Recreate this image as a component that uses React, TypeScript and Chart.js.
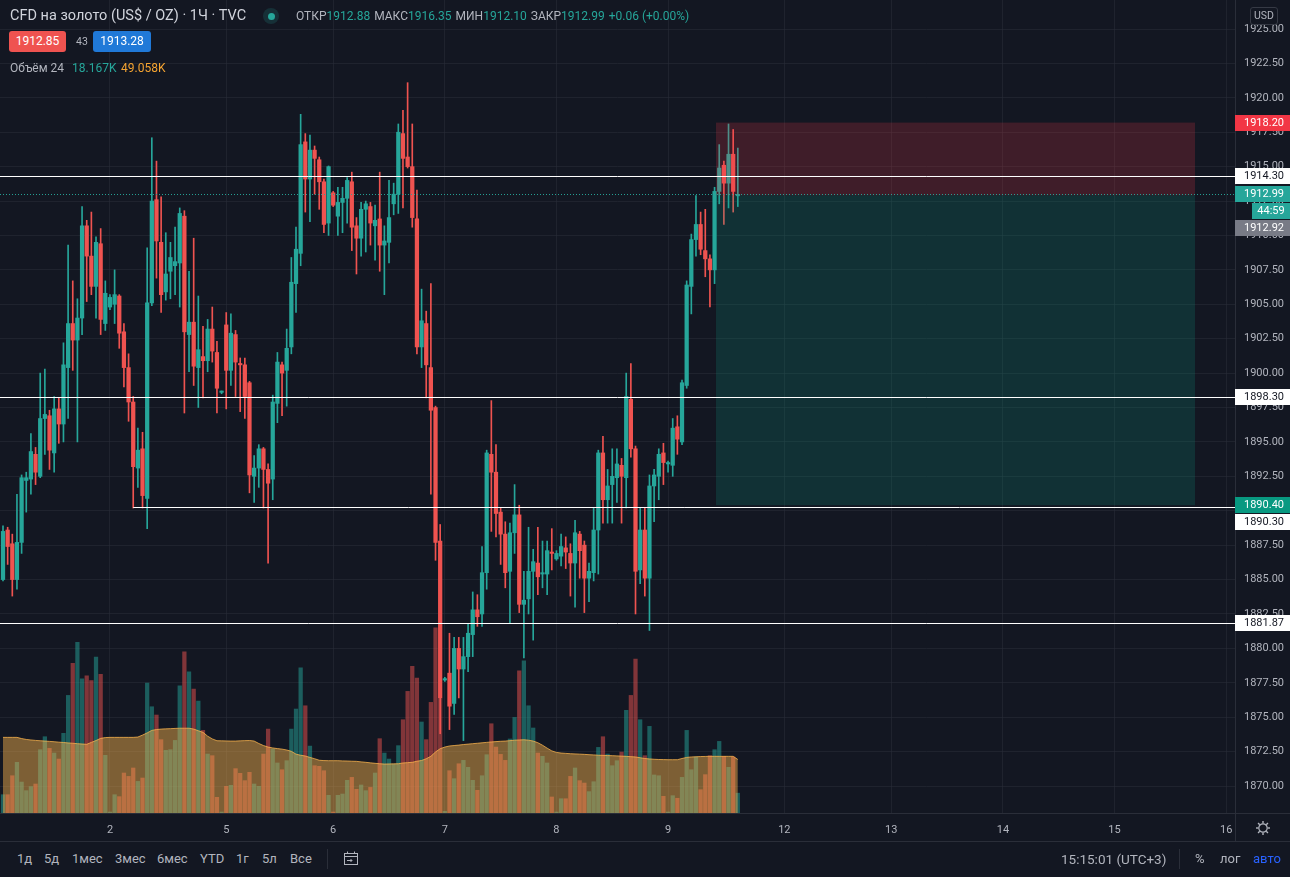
import React, { useEffect, useRef } from "react";
import { Chart, registerables } from "chart.js";

Chart.register(...registerables);

// ---------- data ----------
const opens = [
  1885.0,1888.6,1887.6,1885.0,1887.7,1892.2,1892.3,1894.1,1892.5,1896.7,
  1896.9,1894.2,1897.4,1896.3,1900.4,1903.6,1902.4,1904.0,1910.7,1908.5,
  1906.3,1909.4,1903.6,1904.8,1905.0,1905.6,1903.0,1900.4,1897.9,1893.1,
  1894.5,1890.9,1905.1,1912.6,1909.5,1905.9,1907.4,1907.8,1908.0,1911.4,
  1902.8,1903.7,1900.4,1901.2,1900.9,1903.2,1901.5,1898.6,1903.5,1900.2,
  1902.8,1900.7,1900.6,1899.3,1892.5,1893.1,1894.5,1893.0,1892.3,1897.8,
  1900.6,1900.2,1901.9,1906.5,1908.7,1916.8,1914.1,1916.2,1915.5,1913.9,
  1910.9,1913.1,1911.4,1912.4,1912.7,1913.9,1910.7,1909.8,1911.9,1912.1,
  1910.7,1911.2,1909.3,1909.5,1912.3,1913.0,1917.4,1915.7,1915.0,1911.2,
  1901.9,1903.6,1900.4,1897.5,1887.8,1877.7,1878.2,1876.0,1880.0,1878.5,
  1879.4,1881.0,1882.8,1882.5,1885.5,1894.1,1892.8,1889.9,1888.3,1885.6,
  1888.4,1889.7,1883.2,1883.6,1885.6,1886.2,1885.4,1885.4,1887.0,1886.5,
  1886.7,1887.3,1886.9,1886.2,1888.3,1887.5,1885.1,1885.5,1888.6,1894.2,
  1890.8,1891.9,1892.4,1893.3,1892.4,1898.1,1894.5,1885.7,1888.6,1885.1,
  1891.8,1892.5,1894.2,1893.4,1893.3,1896.1,1895.0,1899.1,1906.3,1909.7,
  1910.8,1908.9,1908.3,1907.5,1913.2,1915.1,1913.8,1915.9,1912.88,
];
const highs = [
  1888.9,1888.8,1888.3,1891.2,1892.6,1892.8,1895.6,1894.6,1900.0,1900.3,
  1897.3,1898.3,1898.2,1902.2,1909.3,1906.7,1905.4,1912.1,1911.1,1911.7,
  1909.9,1910.5,1906.7,1905.7,1907.5,1905.7,1903.6,1901.4,1898.3,1896.0,
  1895.7,1909.1,1917.1,1915.4,1912.8,1910.2,1909.5,1910.6,1912.0,1911.8,
  1907.4,1909.8,1905.6,1903.4,1903.9,1904.8,1902.3,1898.7,1904.4,1904.3,
  1903.1,1901.1,1901.1,1899.4,1894.0,1894.8,1894.6,1893.4,1898.4,1901.5,
  1900.8,1903.2,1908.4,1910.6,1918.8,1917.4,1917.3,1916.5,1915.7,1914.1,
  1915.05,1913.2,1913.5,1913.5,1914.2,1914.6,1911.3,1912.4,1912.5,1912.4,
  1912.2,1914.6,1910.7,1914.0,1913.8,1918.1,1919.1,1921.1,1918.1,1913.3,
  1906.1,1904.5,1906.5,1897.6,1889.0,1877.9,1881.1,1880.8,1880.8,1880.8,
  1881.8,1884.1,1883.9,1887.4,1894.4,1898.0,1894.8,1890.2,1889.2,1889.1,
  1891.9,1890.4,1885.6,1888.8,1887.2,1888.8,1887.8,1887.8,1888.7,1887.1,
  1888.3,1888.1,1887.6,1889.3,1888.5,1887.8,1886.2,1890.2,1894.4,1895.4,
  1893.0,1894.5,1894.5,1893.8,1900.0,1900.7,1894.7,1890.2,1890.2,1892.6,
  1893.0,1894.5,1894.9,1893.6,1896.7,1896.9,1899.5,1906.7,1910.1,1912.9,
  1911.7,1911.9,1908.6,1913.5,1916.6,1915.4,1918.1,1917.7,1916.35,
];
const lows = [
  1884.9,1886.1,1883.8,1884.3,1886.9,1889.9,1891.2,1891.9,1892.4,1894.1,
  1893.0,1892.8,1894.9,1895.0,1896.7,1900.2,1895.0,1902.8,1905.2,1905.7,
  1904.0,1902.8,1903.1,1904.6,1903.6,1901.8,1899.0,1896.5,1890.2,1891.7,
  1890.2,1888.7,1904.9,1906.9,1904.4,1905.3,1905.4,1905.7,1904.8,1897.1,
  1900.1,1899.1,1897.5,1898.2,1900.1,1900.8,1897.1,1898.5,1897.4,1899.1,
  1898.3,1897.2,1896.7,1891.3,1890.6,1891.7,1890.2,1886.2,1890.8,1896.4,
  1896.9,1897.6,1901.4,1904.4,1907.8,1911.7,1911.0,1913.0,1911.9,1910.2,
  1910.0,1912.1,1910.0,1910.2,1910.9,1908.9,1907.2,1908.5,1908.8,1909.3,
  1908.2,1907.4,1905.7,1908.0,1911.5,1911.6,1912.0,1914.9,1910.6,1901.4,
  1900.4,1898.2,1891.2,1886.4,1873.8,1877.6,1874.1,1875.2,1876.4,1873.3,
  1878.3,1879.4,1881.6,1881.6,1884.3,1888.5,1888.1,1886.1,1884.4,1881.8,
  1886.9,1882.6,1879.3,1882.5,1880.6,1883.9,1884.4,1883.9,1885.7,1886.4,
  1886.0,1885.8,1883.8,1883.0,1885.1,1882.6,1883.4,1884.9,1885.4,1889.1,
  1889.1,1889.1,1890.6,1889.1,1890.2,1893.9,1882.5,1884.7,1883.8,1881.3,
  1889.2,1890.8,1891.9,1892.8,1892.5,1894.1,1894.8,1898.9,1904.3,1908.5,
  1908.6,1907.0,1904.8,1906.5,1912.3,1910.8,1912.0,1911.7,1912.10,
];
const closes = [
  1888.5,1887.4,1885.0,1887.7,1892.4,1892.4,1894.3,1892.8,1896.7,1897.0,
  1894.4,1897.4,1896.3,1900.6,1903.6,1902.4,1904.0,1910.7,1908.5,1906.3,
  1909.5,1903.9,1905.8,1905.5,1905.7,1902.9,1900.4,1897.9,1893.2,1894.4,
  1891.1,1905.1,1912.5,1909.6,1905.7,1907.2,1908.4,1908.1,1911.6,1903.0,
  1903.7,1900.5,1901.7,1900.9,1903.2,1901.6,1898.9,1898.7,1900.2,1902.9,
  1900.8,1900.6,1898.3,1892.6,1893.1,1894.5,1893.0,1892.0,1897.9,1900.8,
  1900.0,1901.8,1906.6,1909.0,1916.6,1914.1,1916.2,1915.6,1913.9,1910.8,
  1915.0,1912.2,1912.4,1912.7,1914.0,1910.6,1909.8,1911.9,1912.3,1910.9,
  1911.1,1909.3,1909.6,1911.3,1913.0,1917.5,1915.6,1915.0,1911.3,1901.9,
  1903.8,1900.6,1897.3,1887.7,1876.4,1877.8,1875.8,1880.0,1878.5,1879.4,
  1881.1,1882.8,1882.3,1885.5,1894.2,1892.8,1889.8,1888.3,1885.5,1888.4,
  1889.7,1883.2,1883.5,1885.6,1886.3,1885.2,1885.5,1887.1,1886.9,1886.9,
  1887.4,1887.0,1886.2,1888.4,1887.1,1885.1,1885.6,1888.6,1894.2,1890.8,
  1891.8,1892.5,1893.4,1892.5,1898.3,1894.5,1885.6,1888.6,1885.1,1891.8,
  1892.6,1894.1,1893.5,1893.5,1896.0,1895.2,1899.3,1906.4,1909.7,1910.8,
  1909.0,1908.3,1907.5,1913.2,1914.9,1913.8,1915.9,1913.2,1912.99,
];
// volume in thousands
const volumes = [
  16.8,16.8,34.2,46.5,28.4,20.5,24.2,26.6,58.1,70.0,
  59.3,55.0,49.5,73.1,107.9,137.3,156.5,123.2,125.9,121.4,
  143.1,127.2,52.9,0.9,16.8,15.0,36.7,33.6,41.3,29.0,
  32.1,119.2,97.5,89.9,67.3,57.5,58.1,66.6,116.8,148.0,
  129.6,113.7,102.7,75.8,54.1,52.6,14.4,0.9,24.5,25.4,
  40.7,36.4,29.7,37.3,26.6,24.5,54.1,77.0,58.7,45.9,
  39.7,48.0,77.0,95.4,133.3,98.4,61.4,43.4,42.8,38.8,
  16.2,0.9,16.2,17.4,30.0,32.7,21.7,25.7,20.5,23.5,
  36.7,68.2,55.0,49.5,44.9,61.8,85.6,111.6,134.5,123.8,
  83.5,67.3,101.5,170.0,105.0,1.5,38.8,31.5,45.2,48.3,
  41.9,30.0,20.8,34.2,53.5,81.9,60.5,53.8,48.3,67.9,
  87.7,130.5,139.7,98.4,78.0,55.0,52.0,45.9,14.7,0.9,
  13.1,13.1,33.6,41.3,29.7,27.5,19.6,28.7,60.2,70.0,
  54.1,43.4,48.0,55.9,94.2,107.9,141.2,85.6,52.6,79.5,
  34.9,34.2,15.3,0.9,15.9,13.5,32.7,75.8,39.7,51.4,
  21.4,35.2,52.6,58.1,65.7,52.0,41.9,51.4,18.2,
];
const volumeMA = [
  69.4,69.4,69.4,69.4,68.3,67.5,67.0,66.6,66.3,66.0,
  65.7,65.4,65.0,64.7,64.3,64.0,63.6,63.3,63.0,64.8,
  66.5,68.5,69.2,69.4,69.4,69.4,69.4,69.4,69.4,69.7,
  71.5,73.5,75.8,76.6,77.0,77.2,77.4,77.6,77.8,77.8,
  77.8,77.0,75.5,74.0,70.5,68.0,66.3,66.2,66.1,66.0,
  66.0,66.2,66.4,66.5,66.0,63.8,61.9,60.5,59.7,59.1,
  58.6,57.8,56.6,54.0,53.0,52.3,51.0,49.8,48.4,48.1,
  48.0,48.0,48.0,47.8,47.7,47.5,47.4,46.9,46.5,46.0,
  45.6,45.2,44.9,45.0,45.1,45.2,45.9,46.2,46.5,47.5,
  48.2,49.8,52.0,56.0,59.0,60.5,61.5,61.9,62.3,62.8,
  63.2,63.6,64.0,64.4,64.8,65.2,65.5,65.8,66.0,66.4,
  66.8,67.0,67.2,66.8,66.0,64.5,62.2,59.5,57.0,55.6,
  55.0,54.7,54.4,54.2,54.0,53.8,53.5,53.3,53.0,52.9,
  52.7,52.6,52.4,52.2,52.0,51.7,51.4,50.7,50.0,49.6,
  49.3,49.1,49.0,48.9,48.9,48.9,50.0,51.0,51.4,51.6,
  51.8,51.9,52.0,52.0,52.0,52.0,52.0,52.0,49.1,
];

const dayTickIndex = [23, 48, 71, 95, 119, 143, 168, 191, 215, 239, 263];
const dayTickLabel = ["2", "5", "6", "7", "8", "9", "12", "13", "14", "15", "16"];
const priceTicks = [
  1870, 1872.5, 1875, 1877.5, 1880, 1882.5, 1885, 1887.5, 1890, 1892.5, 1895,
  1897.5, 1900, 1902.5, 1905, 1907.5, 1910, 1912.5, 1915, 1917.5, 1920, 1922.5, 1925,
];

const levelPrices = [1914.3, 1898.3, 1890.3, 1881.87];
const levelStartIndex = [-1, -1, 28, -1];
const lastPrice = 1912.99;
const positionPrices = [1918.2, 1912.92, 1890.4]; // stop, entry, target
const positionRange = [153.3, 256.3];

const tagPrices = [1918.2, 1914.3, 1912.99, 1912.99, 1912.92, 1898.3, 1890.4, 1890.3, 1881.87];
const tagKinds = ["stop", "line", "last", "timer", "entry", "line", "target", "line", "line"];
const timerText = "44:59";

const legendLabels = ["ОТКР", "МАКС", "МИН", "ЗАКР"];
const legendValues = ["1912.88", "1916.35", "1912.10", "1912.99"];
const legendChange = "+0.06 (+0.00%)";

// view window
const X_MIN = -0.645;
const X_MAX = 264.9;
const Y_MIN = 1868.04;
const Y_MAX = 1927.107;
const VOL_MAX = 746;

const FONT = 'Roboto, "Noto Sans", sans-serif';
const UP = "#26a69a";
const DOWN = "#ef5350";
const GRID = "rgba(42,46,57,0.55)";
const BORDER = "#2a2e39";
const TEXT = "#b2b5be";

const tagStyle: Record<string, { bg: string; fg: string }> = {
  stop: { bg: "#f23645", fg: "#ffffff" },
  line: { bg: "#ffffff", fg: "#131722" },
  last: { bg: "#26a69a", fg: "#ffffff" },
  timer: { bg: "#26a69a", fg: "#ffffff" },
  entry: { bg: "#787b86", fg: "#ffffff" },
  target: { bg: "#089981", fg: "#ffffff" },
};

const overlayPlugin = {
  id: "tvOverlay",
  afterDatasetsDraw(chart: any) {
    const { ctx, chartArea: a } = chart;
    const xs = chart.scales.x;
    const ys = chart.scales.y;
    ctx.save();
    ctx.beginPath();
    ctx.rect(a.left, a.top, a.right - a.left, a.bottom - a.top);
    ctx.clip();

    // position box
    const bx1 = xs.getPixelForValue(positionRange[0]);
    const bx2 = xs.getPixelForValue(positionRange[1]);
    const yS = ys.getPixelForValue(positionPrices[0]);
    const yE = ys.getPixelForValue(positionPrices[1]);
    const yT = ys.getPixelForValue(positionPrices[2]);
    ctx.fillStyle = "rgba(242,54,69,0.2)";
    ctx.fillRect(bx1, yS, bx2 - bx1, yE - yS);
    ctx.fillStyle = "rgba(8,153,129,0.2)";
    ctx.fillRect(bx1, yE, bx2 - bx1, yT - yE);

    // last price dotted line
    const yl = Math.round(ys.getPixelForValue(lastPrice)) + 0.5;
    ctx.setLineDash([1, 2]);
    ctx.strokeStyle = "rgba(38,166,154,0.95)";
    ctx.lineWidth = 1;
    ctx.beginPath();
    ctx.moveTo(a.left, yl);
    ctx.lineTo(a.right, yl);
    ctx.stroke();
    ctx.setLineDash([]);

    // horizontal levels
    ctx.strokeStyle = "#ffffff";
    ctx.lineWidth = 1;
    levelPrices.forEach((p, k) => {
      const y = Math.round(ys.getPixelForValue(p)) + 0.5;
      const x0 = levelStartIndex[k] < 0 ? a.left : xs.getPixelForValue(levelStartIndex[k]);
      ctx.beginPath();
      ctx.moveTo(x0, y);
      ctx.lineTo(a.right, y);
      ctx.stroke();
    });
    ctx.restore();
  },
  afterDraw(chart: any) {
    const { ctx, chartArea: a } = chart;
    const ys = chart.scales.y;
    const W = chart.width;
    ctx.save();
    // extend borders into the corner
    ctx.strokeStyle = BORDER;
    ctx.lineWidth = 1;
    ctx.beginPath();
    ctx.moveTo(Math.round(a.right) + 0.5, a.bottom);
    ctx.lineTo(Math.round(a.right) + 0.5, chart.height);
    ctx.moveTo(a.right, Math.round(a.bottom) + 0.5);
    ctx.lineTo(W, Math.round(a.bottom) + 0.5);
    ctx.stroke();

    // price tags
    ctx.font = `11px ${FONT}`;
    ctx.textBaseline = "middle";
    let prev = -1000;
    tagPrices.forEach((p, k) => {
      let y = ys.getPixelForValue(p);
      if (y < prev + 17) y = prev + 17;
      prev = y;
      const kind = tagKinds[k];
      const st = tagStyle[kind];
      const x0 = kind === "timer" ? a.right + 17 : a.right;
      ctx.fillStyle = st.bg;
      ctx.fillRect(x0, Math.round(y - 8), W - x0, 16);
      ctx.fillStyle = st.fg;
      if (kind === "timer") {
        ctx.textAlign = "center";
        ctx.fillText(timerText, (x0 + W) / 2, Math.round(y) + 0.5);
      } else {
        ctx.textAlign = "left";
        ctx.fillText(p.toFixed(2), a.right + 9, Math.round(y) + 0.5);
      }
    });
    ctx.restore();
  },
};

function Gear() {
  const spokes = [0, 45, 90, 135, 180, 225, 270, 315];
  return (
    <svg width="18" height="18" viewBox="0 0 18 18" style={{ position: "absolute", left: 1254, top: 819 }}>
      <circle cx="9" cy="9" r="4.2" fill="none" stroke={TEXT} strokeWidth="1.2" />
      {spokes.map((d) => {
        const r = (d * Math.PI) / 180;
        return (
          <line
            key={d}
            x1={9 + Math.cos(r) * 4.6}
            y1={9 + Math.sin(r) * 4.6}
            x2={9 + Math.cos(r) * 7}
            y2={9 + Math.sin(r) * 7}
            stroke={TEXT}
            strokeWidth="1.4"
          />
        );
      })}
    </svg>
  );
}

function CalendarIcon() {
  return (
    <svg width="18" height="18" viewBox="0 0 18 18" style={{ position: "absolute", left: 342, top: 850 }}>
      <rect x="2.5" y="3.5" width="13" height="11" fill="none" stroke={TEXT} strokeWidth="1" />
      <line x1="2.5" y1="6.5" x2="15.5" y2="6.5" stroke={TEXT} strokeWidth="1" />
      <line x1="5.5" y1="1.5" x2="5.5" y2="4" stroke={TEXT} strokeWidth="1" />
      <line x1="12.5" y1="1.5" x2="12.5" y2="4" stroke={TEXT} strokeWidth="1" />
      <path d="M5 10.5 H10 M8.5 9 L10 10.5 L8.5 12" fill="none" stroke={TEXT} strokeWidth="1" />
    </svg>
  );
}

const abs = (left: number, top: number, extra: any = {}) => ({
  position: "absolute" as const,
  left,
  top,
  whiteSpace: "nowrap" as const,
  ...extra,
});

export default function App() {
  const ref = useRef<HTMLCanvasElement>(null);

  useEffect(() => {
    document.body.style.margin = "0";
    document.body.style.background = "#131722";
    Chart.defaults.font.family = FONT;
    const canvas = ref.current!;
    const idx = opens.map((_, i) => i);
    const up = idx.map((i) => closes[i] >= opens[i]);
    const candleColor = up.map((u) => (u ? UP : DOWN));
    const volColor = up.map((u) => (u ? "rgba(38,166,154,0.5)" : "rgba(239,83,80,0.5)"));

    const chart = new Chart(canvas, {
      type: "bar",
      data: {
        datasets: [
          {
            type: "bar",
            label: "body",
            data: idx.map((i) => ({ x: i, y: [opens[i], closes[i]] })) as any,
            backgroundColor: candleColor,
            barThickness: 3.6,
            minBarLength: 1,
            grouped: false,
            order: 0,
            yAxisID: "y",
          } as any,
          {
            type: "bar",
            label: "wick",
            data: idx.map((i) => ({ x: i, y: [lows[i], highs[i]] })) as any,
            backgroundColor: candleColor,
            barThickness: 1,
            grouped: false,
            order: 1,
            yAxisID: "y",
          } as any,
          {
            type: "line",
            label: "volMA",
            data: idx.map((i) => ({ x: i, y: volumeMA[i] })) as any,
            yAxisID: "yv",
            borderColor: "rgba(255,183,77,0.75)",
            borderWidth: 1,
            backgroundColor: "rgba(255,183,77,0.45)",
            fill: "origin",
            pointRadius: 0,
            tension: 0,
            order: 2,
          } as any,
          {
            type: "bar",
            label: "volume",
            data: idx.map((i) => ({ x: i, y: volumes[i] })) as any,
            backgroundColor: volColor,
            barThickness: 3.6,
            grouped: false,
            order: 3,
            yAxisID: "yv",
          } as any,
        ],
      },
      options: {
        responsive: false,
        maintainAspectRatio: false,
        animation: false,
        devicePixelRatio: 1,
        events: [],
        layout: { padding: 0 },
        plugins: {
          legend: { display: false },
          tooltip: { enabled: false },
          title: { display: false },
        },
        scales: {
          x: {
            type: "linear",
            position: "bottom",
            min: X_MIN,
            max: X_MAX,
            offset: false,
            grid: { color: GRID, drawTicks: false, offset: false },
            border: { color: BORDER },
            ticks: {
              color: TEXT,
              font: { size: 11, family: FONT },
              padding: 11,
              autoSkip: false,
              maxRotation: 0,
              callback: (v: any) => {
                const k = dayTickIndex.indexOf(Number(v));
                return k >= 0 ? dayTickLabel[k] : "";
              },
            },
            afterBuildTicks: (s: any) => {
              s.ticks = dayTickIndex.map((v) => ({ value: v }));
            },
            afterFit: (s: any) => {
              s.height = 28;
              s.paddingLeft = 0;
              s.paddingRight = 0;
            },
          },
          y: {
            type: "linear",
            position: "right",
            min: Y_MIN,
            max: Y_MAX,
            grid: { color: GRID, drawTicks: false },
            border: { color: BORDER },
            ticks: {
              color: TEXT,
              font: { size: 11, family: FONT },
              padding: 9,
              autoSkip: false,
              callback: (v: any) => Number(v).toFixed(2),
            },
            afterBuildTicks: (s: any) => {
              s.ticks = priceTicks.map((v) => ({ value: v }));
            },
            afterFit: (s: any) => {
              s.width = 55;
              s.paddingTop = 0;
              s.paddingBottom = 0;
            },
          },
          yv: {
            type: "linear",
            display: false,
            min: 0,
            max: VOL_MAX,
            grid: { display: false },
          },
        },
      } as any,
      plugins: [overlayPlugin],
    });
    return () => chart.destroy();
  }, []);

  const label = TEXT;
  const teal = "#26a69a";
  return (
    <div
      style={{
        position: "fixed",
        left: 0,
        top: 0,
        width: 1290,
        height: 877,
        background: "#131722",
        overflow: "hidden",
        fontFamily: FONT,
      }}
    >
      <canvas
        ref={ref}
        width={1290}
        height={841}
        style={{ position: "absolute", left: 0, top: 0, width: 1290, height: 841, display: "block" }}
      />

      {/* header line 1 */}
      <div style={abs(10, 7, { fontSize: 14.5, lineHeight: "18px", color: "#d1d4dc" })}>
        CFD на золото (US$ / OZ) · 1Ч · TVC
      </div>
      <div
        style={abs(263, 8, {
          width: 16,
          height: 16,
          borderRadius: 8,
          background: "rgba(38,166,154,0.18)",
        })}
      >
        <div
          style={{
            position: "absolute",
            left: 4.5,
            top: 4.5,
            width: 7,
            height: 7,
            borderRadius: 4,
            background: teal,
          }}
        />
      </div>
      <div style={abs(296, 8, { fontSize: 12, lineHeight: "16px", display: "flex" })}>
        {legendLabels.map((l, k) => (
          <span key={l} style={{ marginRight: 4 }}>
            <span style={{ color: label }}>{l}</span>
            <span style={{ color: teal }}>{legendValues[k]}</span>
          </span>
        ))}
        <span style={{ color: teal }}>{legendChange}</span>
      </div>

      {/* header line 2 */}
      <div
        style={abs(9, 31, {
          width: 57,
          height: 21,
          borderRadius: 3,
          background: "#ef5350",
          color: "#fff",
          fontSize: 12,
          lineHeight: "21px",
          textAlign: "center",
        })}
      >
        1912.85
      </div>
      <div style={abs(76, 34, { fontSize: 10.5, lineHeight: "16px", color: label })}>43</div>
      <div
        style={abs(93, 31, {
          width: 58,
          height: 21,
          borderRadius: 3,
          background: "#2079d8",
          color: "#fff",
          fontSize: 12,
          lineHeight: "21px",
          textAlign: "center",
        })}
      >
        1913.28
      </div>

      {/* header line 3 */}
      <div style={abs(10, 60, { fontSize: 12, lineHeight: "16px", color: label })}>Объём 24</div>
      <div style={abs(72, 60, { fontSize: 12, lineHeight: "16px", color: teal })}>18.167K</div>
      <div style={abs(121, 60, { fontSize: 12, lineHeight: "16px", color: "#f5a431" })}>49.058K</div>

      {/* currency box */}
      <div
        style={abs(1250, 7, {
          width: 28,
          height: 18,
          boxSizing: "border-box",
          border: "1px solid #363a45",
          borderRadius: 3,
          color: label,
          fontSize: 10.5,
          lineHeight: "16px",
          textAlign: "center",
        })}
      >
        USD
      </div>

      <Gear />

      {/* bottom toolbar */}
      <div style={abs(0, 841, { width: 1290, height: 1, background: BORDER })} />
      {[
        ["1д", 17],
        ["5д", 44],
        ["1мес", 72],
        ["3мес", 115],
        ["6мес", 157],
        ["YTD", 200],
        ["1г", 236],
        ["5л", 262],
        ["Все", 290],
      ].map(([t, x]) => (
        <div key={t as string} style={abs(x as number, 851, { fontSize: 13, lineHeight: "16px", color: label })}>
          {t}
        </div>
      ))}
      <div style={abs(327, 849, { width: 1, height: 20, background: "#2a2e39" })} />
      <CalendarIcon />
      <div style={abs(1061, 851, { fontSize: 13.5, lineHeight: "16px", color: label })}>15:15:01 (UTC+3)</div>
      <div style={abs(1179, 849, { width: 1, height: 20, background: "#2a2e39" })} />
      <div style={abs(1195, 851, { fontSize: 13, lineHeight: "16px", color: label })}>%</div>
      <div style={abs(1220, 851, { fontSize: 13, lineHeight: "16px", color: label })}>лог</div>
      <div style={abs(1253, 851, { fontSize: 13, lineHeight: "16px", color: "#2962ff" })}>авто</div>
    </div>
  );
}
